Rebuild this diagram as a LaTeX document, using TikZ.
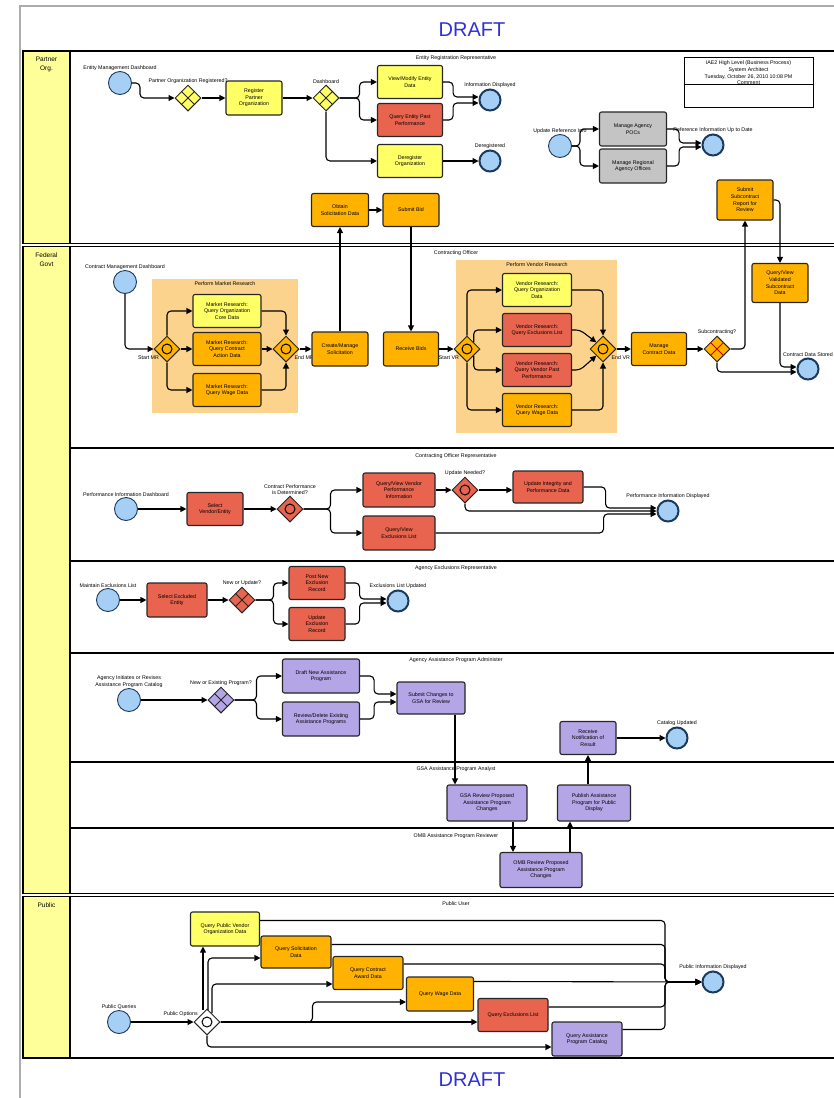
\documentclass[tikz,border=0pt]{standalone}
\usepackage{fontspec}
\setmainfont{Liberation Sans}
\usepackage{tikz}
\usetikzlibrary{shapes.geometric,arrows.meta}

\definecolor{taskyellow}{HTML}{FFFF66}
\definecolor{taskorange}{HTML}{FFB300}
\definecolor{taskred}{HTML}{E8644F}
\definecolor{taskpurple}{HTML}{B4A5E6}
\definecolor{taskgray}{HTML}{C4C4C4}
\definecolor{eventblue}{HTML}{A6CFF5}
\definecolor{eventline}{HTML}{1B3A5C}
\definecolor{laneyellow}{HTML}{FFFF99}
\definecolor{groupbg}{HTML}{FCD38C}
\definecolor{draftblue}{HTML}{3030D8}

\newcommand{\tinytxt}{\fontsize{5.3}{6.6}\selectfont}
\newcommand{\smalltxt}{\fontsize{6.5}{9}\selectfont}
\newcommand{\gwcross}[2]{\draw[draw=#2, line width=1pt] (#1.north east) -- (#1.south west) (#1.north west) -- (#1.south east);}
\newcommand{\gwring}[1]{\draw[line width=1pt] (#1.center) circle (5pt);}

\tikzset{
  task/.style={draw=black!85, line width=1.1pt, rounded corners=2pt, align=center,
    font=\tinytxt, inner sep=1pt, minimum width=56pt, minimum height=33pt},
  ytask/.style={task, fill=taskyellow},
  otask/.style={task, fill=taskorange},
  rtask/.style={task, fill=taskred},
  ptask/.style={task, fill=taskpurple},
  gtask/.style={task, fill=taskgray},
  evlabel/.style={font=\tinytxt, align=center, inner sep=0.5pt},
  startev/.style={circle, draw=eventline, fill=eventblue, line width=0.9pt,
    minimum size=23pt, inner sep=0pt, label distance=2pt},
  endev/.style={startev, line width=2pt, minimum size=21pt},
  gate/.style={diamond, draw=black!85, line width=1pt, minimum size=26pt,
    inner sep=0pt, label distance=1pt},
  flow/.style={line width=1.1pt, rounded corners=4pt,
    -{Triangle[length=6pt,width=6pt]}},
  pool/.style={draw=black, line width=1.2pt},
  lanetitle/.style={font=\tinytxt, anchor=north},
  pooltitle/.style={font=\smalltxt, align=center, anchor=north},
}

\begin{document}
\begin{tikzpicture}[x=1pt, y=-1pt]
\useasboundingbox (0,0) rectangle (834,1098);
\clip (0,0) rectangle (834,1098);

% page frame and pools
\draw[gray!65, line width=2.5pt] (20,6) rectangle (860,1120);
\draw[pool] (23,51) rectangle (845,243.5);
\draw[pool, fill=laneyellow] (23,51) rectangle (70,243.5);
\draw[pool] (23,246.5) rectangle (845,893.5);
\draw[pool, fill=laneyellow] (23,246.5) rectangle (70,893.5);
\draw[pool] (23,896.5) rectangle (845,1058);
\draw[pool, fill=laneyellow] (23,896.5) rectangle (70,1058);
\foreach \y in {448,561,653,762,828}
  \draw[pool] (70,\y) -- (845,\y);

\node[font=\fontsize{20}{20}\selectfont, text=draftblue] (draftTop) at (472,30) {DRAFT};
\node[font=\fontsize{20}{20}\selectfont, text=draftblue] (draftBottom) at (472,1080) {DRAFT};

\node[pooltitle] (hdPartner) at (46.5,53) {Partner\\Org.};
\node[pooltitle] (hdFederal) at (46.5,249) {Federal\\Govt};
\node[pooltitle] (hdPublic) at (46.5,899) {Public};

\node[lanetitle] (ttEntity) at (456,52) {Entity Registration Representative};
\node[lanetitle] (ttOfficer) at (456,247.5) {Contracting Officer};
\node[lanetitle] (ttCor) at (456,450) {Contracting Officer Representative};
\node[lanetitle] (ttExcl) at (456,562.5) {Agency Exclusions Representative};
\node[lanetitle] (ttAdmin) at (456,654.5) {Agency Assistance Program Administer};
\node[lanetitle] (ttGsa) at (456,763.5) {GSA Assistance Program Analyst};
\node[lanetitle] (ttOmb) at (456,830) {OMB Assistance Program Reviewer};
\node[lanetitle] (ttPublic) at (456,898.5) {Public User};

% comment box
\node[draw, line width=1pt, minimum width=129pt, minimum height=50pt,
  anchor=north] (cmtBox) at (748.5,57) {};
\draw[line width=1pt] (cmtBox.west |- 0,84) -- (cmtBox.east |- 0,84);
\node[font=\tinytxt, align=center, anchor=north] (cmtText) at (748.5,57.5)
  {IAE2 High Level (Business Process)\\System Architect\\Tuesday, October 26, 2010 10:08 PM\\Comment};

% groups
\fill[groupbg] (152,279) rectangle (298,413);
\fill[groupbg] (456,260) rectangle (617,433);
\node[font=\tinytxt] (grpMarket) at (225,284) {Perform Market Research};
\node[font=\tinytxt] (grpVendor) at (537,265) {Perform Vendor Research};

% ---- Partner Org ----
\node[startev, label={[evlabel]90:Entity Management Dashboard}] (emdStart) at (120,83) {};
\node[gate, fill=taskyellow, label={[evlabel]90:Partner Organization Registered?}] (gwReg) at (188,98) {};
\node[ytask, minimum height=34pt] (regTask) at (254,98) {Register\\Partner\\Organization};
\node[gate, fill=taskyellow, label={[evlabel]90:Dashboard}] (gwDash) at (326,98) {};
\node[ytask, minimum width=65pt] (viewTask) at (410,82) {View/Modify Entity\\Data};
\node[rtask, minimum width=65pt] (pastTask) at (410,120) {Query Entity Past\\Performance};
\node[ytask, minimum width=65pt] (deregTask) at (410,161) {Deregister\\Organization};
\node[endev, label={[evlabel]90:Information Displayed}] (infoEnd) at (490,100) {};
\node[endev, label={[evlabel]90:Deregistered}] (deregEnd) at (490,161) {};
\node[startev, label={[evlabel]90:Update Reference Info}] (refStart) at (560,146) {};
\node[gtask, minimum width=67pt, minimum height=34pt] (pocTask) at (633,129) {Manage Agency\\POCs};
\node[gtask, minimum width=67pt, minimum height=34pt] (officeTask) at (633,166) {Manage Regional\\Agency Offices};
\node[endev, label={[evlabel]90:Reference Information Up to Date}] (refEnd) at (713,145) {};
\node[otask, minimum width=57pt] (solTask) at (340,210) {Obtain\\Solicitation Data};
\node[otask] (bidTask) at (411,210) {Submit Bid};
\node[otask, minimum height=40pt] (subRepTask) at (745,200) {Submit\\Subcontract\\Report for\\Review};

\gwcross{gwReg}{black!85}
\gwcross{gwDash}{black!85}

\draw[flow] (emdStart.east) -- ++(8,0) |- (gwReg.west);
\draw[flow] (gwReg) -- (regTask);
\draw[flow] (regTask) -- (gwDash);
\draw[flow] (gwDash.east) -- ++(20,0) |- (viewTask.west);
\draw[flow] (gwDash.east) -- ++(20,0) |- (pastTask.west);
\draw[flow] (gwDash.south) |- (deregTask.west);
\draw[flow] (viewTask.east) -- ++(10,0) |- ([yshift=3pt]infoEnd.west);
\draw[flow] (pastTask.east) -- ++(10,0) |- ([yshift=-3pt]infoEnd.west);
\draw[flow] (deregTask) -- (deregEnd);
\draw[flow] (refStart.east) -- ++(8,0) |- (pocTask.west);
\draw[flow] (refStart.east) -- ++(8,0) |- (officeTask.west);
\draw[flow] (pocTask.east) -- ++(12,0) |- ([yshift=2pt]refEnd.west);
\draw[flow] (officeTask.east) -- ++(12,0) |- ([yshift=-2pt]refEnd.west);
\draw[flow] (solTask) -- (bidTask);

% ---- Contracting Officer ----
\node[startev, label={[evlabel]90:Contract Management Dashboard}] (cmdStart) at (125,282) {};
\node[gate, fill=taskorange, label={[evlabel, label distance=0pt]220:Start MR}] (gwStartMR) at (167,349) {};
\node[ytask, minimum width=68pt] (mr1) at (227,311) {Market Research:\\Query Organization\\Core Data};
\node[otask, minimum width=68pt] (mr2) at (227,349) {Market Research:\\Query Contract\\Action Data};
\node[otask, minimum width=68pt] (mr3) at (227,390) {Market Research:\\Query Wage Data};
\node[gate, fill=taskorange, label={[evlabel, label distance=0pt]-35:End MR}] (gwEndMR) at (286,349) {};
\node[otask, minimum height=34pt] (createTask) at (340,349) {Create/Manage\\Solicitation};
\node[otask, minimum width=55pt, minimum height=34pt] (receiveTask) at (411,349) {Receive Bids};
\node[gate, fill=taskorange, label={[evlabel, label distance=0pt]220:Start VR}] (gwStartVR) at (467,349) {};
\node[ytask, minimum width=69pt] (vr1) at (537,290) {Vendor Research:\\Query Organization\\Data};
\node[rtask, minimum width=69pt] (vr2) at (537,330) {Vendor Research:\\Query Exclusions List};
\node[rtask, minimum width=69pt] (vr3) at (537,370) {Vendor Research:\\Query Vendor Past\\Performance};
\node[otask, minimum width=69pt] (vr4) at (537,410) {Vendor Research:\\Query Wage Data};
\node[gate, fill=taskorange, label={[evlabel, label distance=0pt]-35:End VR}] (gwEndVR) at (603,349) {};
\node[otask, minimum width=55pt] (manageTask) at (659,349) {Manage\\Contract Data};
\node[gate, fill=taskorange, label={[evlabel]90:Subcontracting?}] (gwSub) at (717,349) {};
\node[otask, minimum height=39pt] (validTask) at (780,283) {Query/View\\Validated\\Subcontract\\Data};
\node[endev, label={[evlabel]90:Contract Data Stored}] (storedEnd) at (808,369) {};

\gwring{gwStartMR}
\gwring{gwEndMR}
\gwring{gwStartVR}
\gwring{gwEndVR}
\gwcross{gwSub}{red!80!black}

\draw[flow] (cmdStart.south) |- (gwStartMR.west);
\draw[flow] (gwStartMR.north) |- (mr1.west);
\draw[flow] (gwStartMR) -- (mr2);
\draw[flow] (gwStartMR.south) |- (mr3.west);
\draw[flow] (mr1.east) -| (gwEndMR.north);
\draw[flow] (mr2) -- (gwEndMR);
\draw[flow] (mr3.east) -| (gwEndMR.south);
\draw[flow] (gwEndMR) -- (createTask);
\draw[flow] (createTask.north) -- (solTask.south);
\draw[flow] (bidTask.south) -- (receiveTask.north);
\draw[flow] (receiveTask) -- (gwStartVR);
\draw[flow] (gwStartVR.north) |- (vr1.west);
\draw[flow] (gwStartVR.north east) |- (vr2.west);
\draw[flow] (gwStartVR.south east) |- (vr3.west);
\draw[flow] (gwStartVR.south) |- (vr4.west);
\draw[flow] (vr1.east) -| (gwEndVR.north);
\draw[flow] (vr2.east) -- ++(8,0) -- (gwEndVR.north west);
\draw[flow] (vr3.east) -- ++(8,0) -- (gwEndVR.south west);
\draw[flow] (vr4.east) -| (gwEndVR.south);
\draw[flow] (gwEndVR) -- (manageTask);
\draw[flow] (manageTask) -- (gwSub);
\draw[flow] (gwSub.east) -| (subRepTask.south);
\draw[flow] (subRepTask.east) -| (validTask.north);
\draw[flow] (validTask.south) |- ([yshift=2pt]storedEnd.west);
\draw[flow] (gwSub.south) |- ([yshift=-3pt]storedEnd.west);

% ---- Contracting Officer Representative ----
\node[startev, label={[evlabel]90:Performance Information Dashboard}] (perfStart) at (126,509) {};
\node[rtask] (selectTask) at (215,509) {Select\\Vendor/Entity};
\node[gate, fill=taskred, label={[evlabel]90:Contract Performance\\is Determined?}] (gwPerf) at (290,509) {};
\node[rtask, minimum width=72pt, minimum height=34pt] (vperfTask) at (399,490) {Query/View Vendor\\Performance\\Information};
\node[rtask, minimum width=72pt, minimum height=34pt] (exclTask) at (399,533) {Query/View\\Exclusions List};
\node[gate, fill=taskred, label={[evlabel]90:Update Needed?}] (gwUpd) at (465,490) {};
\node[rtask, minimum width=70pt, minimum height=32pt] (integTask) at (548,487) {Update Integrity and\\Performance Data};
\node[endev, label={[evlabel]90:Performance Information Displayed}] (perfEnd) at (668,511) {};

\gwring{gwPerf}
\gwring{gwUpd}

\draw[flow] (perfStart) -- (selectTask);
\draw[flow] (selectTask) -- (gwPerf);
\draw[flow] (gwPerf.east) -- ++(27,0) |- (vperfTask.west);
\draw[flow] (gwPerf.east) -- ++(27,0) |- (exclTask.west);
\draw[flow] (vperfTask) -- (gwUpd);
\draw[flow] (gwUpd) -- (gwUpd -| integTask.west);
\draw[flow] (integTask.east) -- ++(22,0) |- ([yshift=3pt]perfEnd.west);
\draw[flow] (gwUpd.south) |- (perfEnd.west);
\draw[flow] (exclTask.east) -- ++(168,0) |- ([yshift=-3pt]perfEnd.west);

% ---- Agency Exclusions Representative ----
\node[startev, label={[evlabel]90:Maintain Exclusions List}] (exclStart) at (108,600) {};
\node[rtask, minimum width=60pt, minimum height=34pt] (selExTask) at (177,600) {Select Excluded\\Entity};
\node[gate, fill=taskred, label={[evlabel]90:New or Update?}] (gwNew) at (242,600) {};
\node[rtask] (postTask) at (317,583) {Post New\\Exclusion\\Record};
\node[rtask] (updExTask) at (317,624) {Update\\Exclusion\\Record};
\node[endev, label={[evlabel]90:Exclusions List Updated}] (exUpdEnd) at (398,601) {};

\gwcross{gwNew}{black!85}

\draw[flow] (exclStart) -- (selExTask);
\draw[flow] (selExTask) -- (gwNew);
\draw[flow] (gwNew.east) -- ++(18,0) |- (postTask.west);
\draw[flow] (gwNew.east) -- ++(18,0) |- (updExTask.west);
\draw[flow] (postTask.east) -- ++(14,0) |- ([yshift=2pt]exUpdEnd.west);
\draw[flow] (updExTask.east) -- ++(14,0) |- ([yshift=-2pt]exUpdEnd.west);

% ---- Assistance programs ----
\node[startev, label={[evlabel]90:Agency Initiates or Revises\\Assistance Program Catalog}] (catStart) at (129,700) {};
\node[gate, fill=taskpurple, label={[evlabel]90:New or Existing Program?}] (gwProg) at (221,700) {};
\node[ptask, minimum width=77pt, minimum height=34pt] (draftTask) at (321,676) {Draft New Assistance\\Program};
\node[ptask, minimum width=77pt, minimum height=34pt] (revTask) at (321,719) {Review/Delete Existing\\Assistance Programs};
\node[ptask, minimum width=68pt, minimum height=32pt] (submitGsaTask) at (431,698) {Submit Changes to\\GSA for Review};
\node[ptask] (notifTask) at (588,738) {Receive\\Notification of\\Result};
\node[endev, label={[evlabel]90:Catalog Updated}] (catEnd) at (677,738) {};
\node[ptask, minimum width=80pt, minimum height=36pt] (gsaRevTask) at (487,803) {GSA Review Proposed\\Assistance Program\\Changes};
\node[ptask, minimum width=73pt, minimum height=36pt] (publishTask) at (594,803) {Publish Assistance\\Program for Public\\Display};
\node[ptask, minimum width=82pt, minimum height=35pt] (ombRevTask) at (541,870) {OMB Review Proposed\\Assistance Program\\Changes};

\gwcross{gwProg}{black!85}

\draw[flow] (catStart) -- (gwProg);
\draw[flow] (gwProg.east) -- ++(22,0) |- (draftTask.west);
\draw[flow] (gwProg.east) -- ++(22,0) |- (revTask.west);
\draw[flow] (draftTask.east) -- ++(14,0) |- ([yshift=4pt]submitGsaTask.west);
\draw[flow] (revTask.east) -- ++(14,0) |- ([yshift=-4pt]submitGsaTask.west);
\draw[flow] ([xshift=24pt]submitGsaTask.south) -- ([xshift=-32pt]gsaRevTask.north);
\draw[flow] ([xshift=26pt]gsaRevTask.south) -- ([xshift=-28pt]ombRevTask.north);
\draw[flow] ([xshift=29pt]ombRevTask.north) -- ([xshift=-24pt]publishTask.south);
\draw[flow] ([xshift=-6pt]publishTask.north) -- (notifTask.south);
\draw[flow] (notifTask) -- (catEnd);

% ---- Public ----
\node[startev, label={[evlabel]90:Public Queries}] (pubStart) at (119,1022) {};
\node[gate, fill=white, label={[evlabel, label distance=0pt]150:Public Options}] (gwPub) at (207,1022) {};
\node[ytask, minimum width=69pt, minimum height=34pt] (q1) at (225,929) {Query Public Vendor\\Organization Data};
\node[otask, minimum width=70pt, minimum height=32pt] (q2) at (296,952) {Query Solicitation\\Data};
\node[otask, minimum width=70pt] (q3) at (368,973) {Query Contract\\Award Data};
\node[otask, minimum width=67pt, minimum height=34pt] (q4) at (440,994) {Query Wage Data};
\node[rtask, minimum width=70pt] (q5) at (513,1015) {Query Exclusions List};
\node[ptask, minimum width=70pt, minimum height=34pt] (q6) at (587,1039) {Query Assistance\\Program Catalog};
\node[endev, label={[evlabel]90:Public Information Displayed}] (pubEnd) at (713,982) {};

\gwring{gwPub}

\coordinate (pubUp1) at (203,1010);
\coordinate (pubUp2) at (208,1010);
\coordinate (pubUp3) at (212,1013);
\coordinate (pubMerge) at (665,982);

\draw[flow] (pubStart) -- (gwPub);
\draw[flow] (pubUp1) -- (pubUp1 |- q1.south);
\draw[flow] (pubUp2) |- ([yshift=-6pt]q2.west);
\draw[flow] (pubUp3) |- ([yshift=-11pt]q3.west);
\draw[flow] (gwPub.east) -- ++(92,0) |- ([yshift=-8pt]q4.west);
\draw[flow] (gwPub.east) -- (gwPub.east -| q5.west);
\draw[flow] (gwPub.south) |- ([yshift=-8pt]q6.west);
\draw[flow] ([yshift=-9pt]q1.north east) -| (pubMerge) -- (pubEnd.west);
\draw[flow] ([yshift=-9pt]q2.north east) -| (pubMerge) -- (pubEnd.west);
\draw[flow] ([yshift=-8pt]q3.north east) -| (pubMerge) -- (pubEnd.west);
\draw[flow] ([yshift=-5pt]q4.north east) -- (pubEnd.west);
\draw[flow] ([yshift=-9pt]q5.north east) -| (pubMerge) -- (pubEnd.west);
\draw[flow] ([yshift=-8pt]q6.north east) -| (pubMerge) -- (pubEnd.west);
\end{tikzpicture}
\end{document}
